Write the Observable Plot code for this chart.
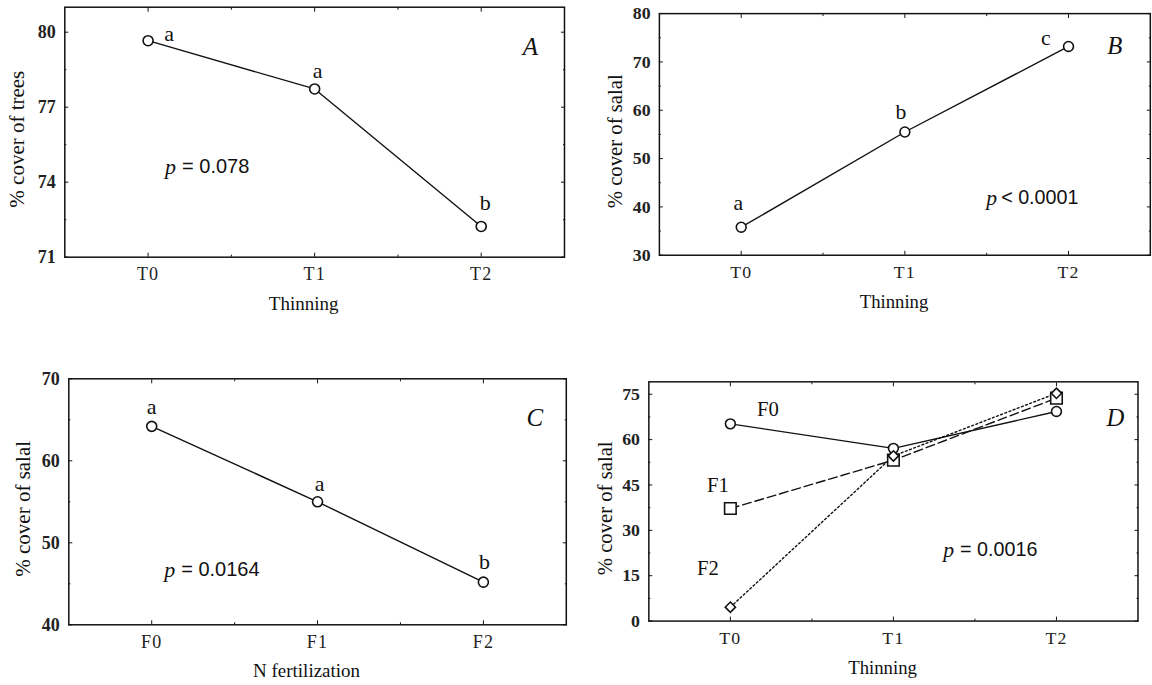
<!DOCTYPE html>
<html><head><meta charset="utf-8">
<script src="https://cdn.jsdelivr.net/npm/d3@7"></script>
<script src="https://cdn.jsdelivr.net/npm/@observablehq/plot@0.6"></script>
<style>
html,body{margin:0;padding:0;background:#fff;overflow:hidden;width:1152px;height:685px;}
#wrap{position:relative;width:1152px;height:685px;overflow:hidden;background:#fff;}
.panel{position:absolute;}
g[aria-label="x-axis tick label"] text{letter-spacing:1.2px;}
g[aria-label="x title"] text{letter-spacing:1px;}
</style></head><body><div id="wrap"></div>
<script>
// ---- data ----
const thinning = ["T0", "T1", "T2"];
const fertilization = ["F0", "F1", "F2"];
const treesCover = [79.66, 77.73, 72.23];
const treesLetters = ["a", "a", "b"];
const salalByThinning = [35.8, 55.5, 73.2];
const salalThinLetters = ["a", "b", "c"];
const salalByFert = [64.2, 55.0, 45.2];
const salalFertLetters = ["a", "a", "b"];
const salalF0 = [65.2, 57.1, 69.3];
const salalF1 = [37.2, 53.2, 73.7];
const salalF2 = [4.6, 54.6, 75.3];
const seriesNames = ["F0", "F1", "F2"];

const ink = "#111";
const serif = "Liberation Serif";
const sans = "Liberation Sans";
const idx = [0, 1, 2];

function buildPanel(cfg) {
  const marks = [
    Plot.frame({stroke: ink, strokeWidth: 1.5}),
    // y tick labels
    Plot.axisY({anchor: "left", ticks: cfg.yTicks, tickSize: 0, tickPadding: 9, fontSize: 18, fontFamily: serif, fontWeight: "bold", fill: "#222", label: null}),
    // inward ticks
    Plot.axisY({anchor: "left", ticks: cfg.yTicks, tickSize: -4, fill: "none", label: null, stroke: ink}),
    Plot.axisY({anchor: "right", ticks: cfg.yTicks, tickSize: -4, fill: "none", label: null, stroke: ink}),
    Plot.axisY({anchor: "left", ticks: cfg.yMinor, tickSize: -2, fill: "none", label: null, stroke: ink}),
    Plot.axisY({anchor: "right", ticks: cfg.yMinor, tickSize: -2, fill: "none", label: null, stroke: ink}),
    Plot.axisX({anchor: "bottom", ticks: idx, tickFormat: i => cfg.cats[i], tickSize: 0, tickPadding: 10, fontSize: 18, fontFamily: serif, fill: "#222", label: null}),
    Plot.axisX({anchor: "bottom", ticks: idx, tickSize: -4, fill: "none", label: null, stroke: ink}),
    Plot.axisX({anchor: "top", ticks: idx, tickSize: -4, fill: "none", label: null, stroke: ink}),
    Plot.axisX({anchor: "bottom", ticks: [0.5, 1.5], tickSize: -2, fill: "none", label: null, stroke: ink}),
    Plot.axisX({anchor: "top", ticks: [0.5, 1.5], tickSize: -2, fill: "none", label: null, stroke: ink}),
    // titles
    Plot.text([cfg.xTitle], {frameAnchor: "bottom", text: d => d, dy: cfg.xTitleDy, dx: -11, textAnchor: "middle", lineAnchor: "middle", fontSize: 19, fontFamily: serif, ariaLabel: "x title"}),
    Plot.text([cfg.yTitle], {frameAnchor: "left", text: d => d, rotate: -90, dx: cfg.yTitleDx, dy: 7, textAnchor: "middle", lineAnchor: "middle", fontSize: 21, fontFamily: serif, ariaLabel: "y title"}),
    // panel letter
    Plot.text([cfg.letter], {frameAnchor: "top-right", text: d => d, dx: cfg.letterDx, dy: cfg.letterDy, textAnchor: "middle", lineAnchor: "middle", fontSize: 25, fontFamily: serif, fontStyle: "italic"}),
    // p value
    Plot.text([{x: cfg.pX, y: cfg.pY}], {x: "x", y: "y", text: () => "p", textAnchor: "start", lineAnchor: "middle", fontSize: 22, fontFamily: serif, fontStyle: "italic"}),
    Plot.text([{x: cfg.pX, y: cfg.pY}], {x: "x", y: "y", text: () => cfg.pRest, dx: cfg.pRestDx, textAnchor: "start", lineAnchor: "middle", fontSize: 20, fontFamily: sans})
  ];
  cfg.series.forEach(s => {
    marks.push(Plot.line(idx, {x: i => i, y: i => s.values[i], stroke: ink, strokeWidth: 1.4, strokeDasharray: s.dash}));
  });
  cfg.series.forEach(s => {
    marks.push(Plot.dot(idx, {x: i => i, y: i => s.values[i], r: s.r, symbol: s.symbol, fill: "white", stroke: ink, strokeWidth: 1.6}));
    if (s.letters) {
      idx.forEach(i => {
        marks.push(Plot.text([i], {x: d => d, y: d => s.values[d], text: d => s.letters[d], dx: cfg.letterOffsets[i][0], dy: cfg.letterOffsets[i][1], fontSize: 22, fontFamily: serif, textAnchor: "middle", lineAnchor: "middle"}));
      });
    }
  });
  if (cfg.seriesLabels) {
    cfg.seriesLabels.forEach(l => {
      marks.push(Plot.text([l], {x: d => d.x, y: d => d.y, text: d => d.name, fontSize: 21, fontFamily: serif, textAnchor: "middle", lineAnchor: "middle"}));
    });
  }
  const chart = Plot.plot({
    width: cfg.width, height: cfg.height,
    marginLeft: cfg.ml, marginRight: cfg.mr, marginTop: cfg.mt, marginBottom: cfg.mb,
    x: {domain: [-0.5, 2.5], axis: null},
    y: {domain: cfg.yDomain, axis: null},
    style: {fontFamily: serif, color: ink, background: "transparent", overflow: "visible"},
    marks
  });
  const div = document.createElement("div");
  div.className = "panel";
  div.style.left = cfg.left + "px";
  div.style.top = cfg.top + "px";
  div.appendChild(chart);
  document.getElementById("wrap").appendChild(div);
}

buildPanel({
  left: 0, top: 0, width: 580, height: 316.7, ml: 64.3, mr: 16, mt: 6.7, mb: 60,
  yDomain: [71, 81], yTicks: [71, 74, 77, 80], yMinor: [72.5, 75.5, 78.5],
  cats: thinning, xTitle: "Thinning", yTitle: "% cover of trees", xTitleDy: 46.5, yTitleDx: -47.6,
  letter: "A", letterDx: -34, letterDy: 40,
  pX: 0.102, pY: 74.61, pRest: "= 0.078", pRestDx: 17,
  letterOffsets: [[21, -7], [3, -18], [4, -23]],
  series: [{values: treesCover, letters: treesLetters, r: 5, symbol: "circle"}]
});
buildPanel({
  left: 580, top: 0, width: 580, height: 318.3, ml: 80, mr: 2.2, mt: 13.3, mb: 60,
  yDomain: [30, 80], yTicks: [30, 40, 50, 60, 70, 80], yMinor: [35, 45, 55, 65, 75],
  cats: thinning, xTitle: "Thinning", yTitle: "% cover of salal", xTitleDy: 47.6, yTitleDx: -45,
  letter: "B", letterDx: -36, letterDy: 33.4,
  pX: 1.498, pY: 41.9, pRest: "< 0.0001", pRestDx: 15,
  letterOffsets: [[-3, -24], [-4, -20], [-23, -9]],
  series: [{values: salalByThinning, letters: salalThinLetters, r: 5, symbol: "circle"}]
});
buildPanel({
  left: 0, top: 355, width: 580, height: 329.3, ml: 68.3, mr: 14.2, mt: 23.3, mb: 60,
  yDomain: [40, 70], yTicks: [40, 50, 60, 70], yMinor: [45, 55, 65],
  cats: fertilization, xTitle: "N fertilization", yTitle: "% cover of salal", xTitleDy: 46.5, yTitleDx: -45.6,
  letter: "C", letterDx: -31.5, letterDy: 39,
  pX: 0.075, pY: 46.7, pRest: "= 0.0164", pRestDx: 17,
  letterOffsets: [[0, -19], [2, -18], [1, -20]],
  series: [{values: salalByFert, letters: salalFertLetters, r: 5, symbol: "circle"}]
});
buildPanel({
  left: 580, top: 355, width: 580, height: 329.3, ml: 69.3, mr: 14.7, mt: 26.7, mb: 60,
  yDomain: [0, 79.1], yTicks: [0, 15, 30, 45, 60, 75], yMinor: [7.5, 22.5, 37.5, 52.5, 67.5],
  cats: thinning, xTitle: "Thinning", yTitle: "% cover of salal", xTitleDy: 47.7, yTitleDx: -44.3,
  letter: "D", letterDx: -23, letterDy: 36.6,
  pX: 1.306, pY: 23.6, pRest: "= 0.0016", pRestDx: 17,
  series: [
    {values: salalF0, r: 5, symbol: "circle"},
    {values: salalF1, r: 6.6, symbol: "square", dash: "9,4"},
    {values: salalF2, r: 4.7, symbol: "diamond2", dash: "2,2.5"}
  ],
  seriesLabels: [
    {name: seriesNames[0], x: 0.23, y: 69.9},
    {name: seriesNames[1], x: -0.077, y: 44.9},
    {name: seriesNames[2], x: -0.137, y: 17.4}
  ]
});
</script></body></html>
